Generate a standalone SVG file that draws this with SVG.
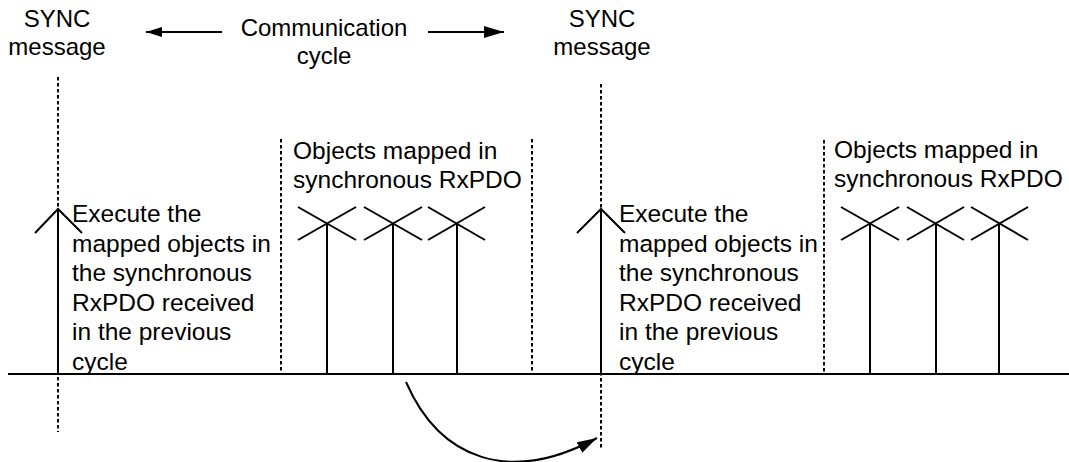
<svg xmlns="http://www.w3.org/2000/svg" width="1069" height="462" viewBox="0 0 1069 462">
<defs>
<style>
text{font-family:"Liberation Sans",Arial,sans-serif;fill:#000;}
.t{font-size:24.5px;}
.h{font-size:24px;}
.ln{stroke:#000;stroke-width:2;fill:none;}
.dot{stroke:#000;stroke-width:2;stroke-dasharray:3.5,2.5;fill:none;}
</style>
<marker id="ah" viewBox="0 0 16 10" refX="16" refY="5" markerWidth="16" markerHeight="10" markerUnits="userSpaceOnUse" orient="auto">
<path d="M0,0 L16,5 L0,10 Z" fill="#000"/>
</marker>
<marker id="ahL" viewBox="0 0 20 12" refX="20" refY="6" markerWidth="20" markerHeight="12" markerUnits="userSpaceOnUse" orient="auto">
<path d="M0,0 L20,6 L0,12 Z" fill="#000"/>
</marker>
</defs>
<rect width="1069" height="462" fill="#fff"/>

<g id="timeline">
<line class="ln" x1="8" y1="374" x2="1069" y2="374" stroke-width="2.5"/>
</g>

<g id="sync1">
<text class="h" x="57" y="27" text-anchor="middle">SYNC</text>
<text class="h" x="57" y="55" text-anchor="middle">message</text>
<line class="dot" x1="58" y1="77" x2="58" y2="432"/>
</g>

<g id="sync2">
<text class="h" x="602" y="27" text-anchor="middle">SYNC</text>
<text class="h" x="602" y="55" text-anchor="middle">message</text>
<line class="dot" x1="601" y1="84" x2="601" y2="448"/>
</g>

<g id="cycle-label">
<text class="h" x="324" y="36" text-anchor="middle">Communication</text>
<text class="h" x="324" y="64" text-anchor="middle">cycle</text>
</g>

<g id="exec1">
<line class="ln" x1="58" y1="209" x2="58" y2="374"/>
<polyline class="ln" points="35,233 58,209 82,233"/>
<text class="t" x="72" y="222">Execute the</text>
<text class="t" x="72" y="251.5">mapped objects in</text>
<text class="t" x="72" y="281">the synchronous</text>
<text class="t" x="72" y="310.5">RxPDO received</text>
<text class="t" x="72" y="340">in the previous</text>
<text class="t" x="72" y="369.5">cycle</text>
</g>

<g id="rx1">
<line class="dot" x1="281" y1="139" x2="281" y2="374"/>
<line class="dot" x1="532" y1="139" x2="532" y2="374"/>
<text class="t" x="293" y="159">Objects mapped in</text>
<text class="t" x="293" y="188">synchronous RxPDO</text>
<line class="ln" x1="298" y1="207" x2="356" y2="240"/>
<line class="ln" x1="298" y1="240" x2="356" y2="207"/>
<line class="ln" x1="327" y1="224" x2="327" y2="374"/>
<line class="ln" x1="364" y1="207" x2="422" y2="240"/>
<line class="ln" x1="364" y1="240" x2="422" y2="207"/>
<line class="ln" x1="393" y1="224" x2="393" y2="374"/>
<line class="ln" x1="428" y1="207" x2="485" y2="240"/>
<line class="ln" x1="428" y1="240" x2="485" y2="207"/>
<line class="ln" x1="457" y1="224" x2="457" y2="374"/>
</g>

<g id="exec2">
<line class="ln" x1="601" y1="209" x2="601" y2="374"/>
<polyline class="ln" points="577,233 601,209 625,233"/>
<text class="t" x="619" y="222">Execute the</text>
<text class="t" x="619" y="251.5">mapped objects in</text>
<text class="t" x="619" y="281">the synchronous</text>
<text class="t" x="619" y="310.5">RxPDO received</text>
<text class="t" x="619" y="340">in the previous</text>
<text class="t" x="619" y="369.5">cycle</text>
</g>

<g id="rx2">
<line class="dot" x1="824" y1="140" x2="824" y2="374"/>
<text class="t" x="834" y="158">Objects mapped in</text>
<text class="t" x="834" y="187">synchronous RxPDO</text>
<line class="ln" x1="841" y1="207" x2="899" y2="240"/>
<line class="ln" x1="841" y1="240" x2="899" y2="207"/>
<line class="ln" x1="870" y1="224" x2="870" y2="374"/>
<line class="ln" x1="907" y1="207" x2="964" y2="240"/>
<line class="ln" x1="907" y1="240" x2="964" y2="207"/>
<line class="ln" x1="936" y1="224" x2="936" y2="374"/>
<line class="ln" x1="971" y1="207" x2="1028" y2="240"/>
<line class="ln" x1="971" y1="240" x2="1028" y2="207"/>
<line class="ln" x1="999" y1="224" x2="999" y2="374"/>
</g>

<g id="connectors">
<line class="ln" x1="222" y1="32" x2="146" y2="32" marker-end="url(#ah)"/>
<line class="ln" x1="428" y1="32" x2="504" y2="32" marker-end="url(#ahL)"/>
<path class="ln" d="M406,382 C440,460 510,485 597,438" marker-end="url(#ahL)"/>
</g>
</svg>
